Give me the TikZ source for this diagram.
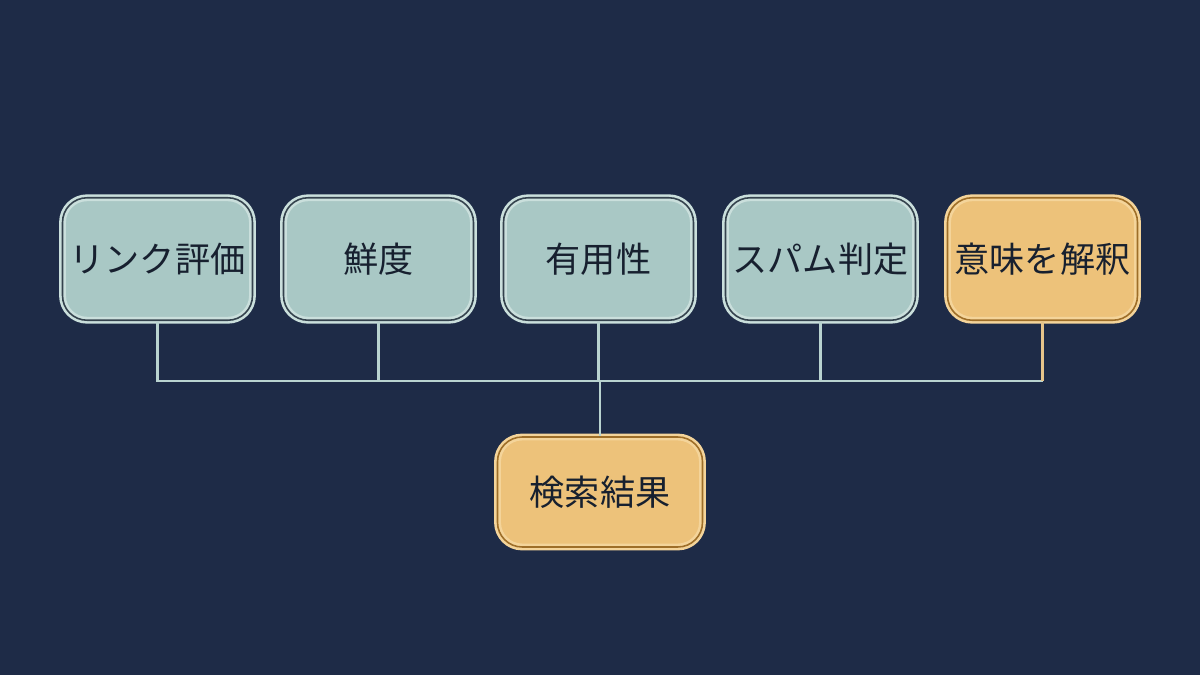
\documentclass[tikz,border=0pt]{standalone}
\usepackage{fontspec}
\setmainfont{Noto Sans CJK JP}
\usetikzlibrary{positioning}

\definecolor{navybg}{HTML}{1E2B47}
\definecolor{tealfill}{HTML}{A9C8C5}
\definecolor{tealedge}{HTML}{CADFDC}
\definecolor{amberfill}{HTML}{EDC27A}
\definecolor{amberedge}{HTML}{F4D49A}
\definecolor{amberline}{HTML}{9E6E28}
\definecolor{inkdark}{HTML}{17202F}
\definecolor{wireteal}{HTML}{B9D3D0}
\definecolor{wiretan}{HTML}{E6C48A}

\tikzset{
  card/.style={rounded corners=14, minimum width=3.8cm, minimum height=2.45cm,
    draw=tealedge, double=inkdark!80!tealfill, line width=1.5pt, double distance=0.9pt,
    fill=tealfill, text=inkdark, font=\fontsize{20}{22}\selectfont, inner sep=0pt},
  goldcard/.style={card, draw=amberedge, double=amberline, fill=amberfill},
  wire/.style={draw=wireteal, line width=1.4pt},
}

\begin{document}
\begin{tikzpicture}[x=0.02cm, y=-0.02cm]
	% Hintergrund
	\fill[navybg] (0,0) rectangle (1200,675);
	\useasboundingbox (0,0) rectangle (1200,675);
	% Faktoren
	\node [card] (link) at (157.5,259) {リンク評価};
	\node [card] (fresh) at (378.5,259) {鮮度};
	\node [card] (useful) at (598.5,259) {有用性};
	\node [card] (spam) at (820.5,259) {スパム判定};
	\node [goldcard] (mean) at (1042.5,259) {意味を解釈};
	% Ergebnis
	\node [goldcard, minimum width=4.1cm, minimum height=2.2cm] (result) at (600,492) {検索結果};
	% Verbindungen
	\coordinate (bus) at (600,381);
	\draw [wire] (link.south) |- (bus);
	\draw [wire] (fresh.south) |- (bus);
	\draw [wire] (useful.south) |- (bus);
	\draw [wire] (spam.south) |- (bus);
	\draw [wire] (mean.south |- bus) -- (bus);
	\draw [wire, draw=wiretan] (mean.south) -- (mean.south |- bus);
	\draw [wire] (bus) -- (result.north);
\end{tikzpicture}
\end{document}
